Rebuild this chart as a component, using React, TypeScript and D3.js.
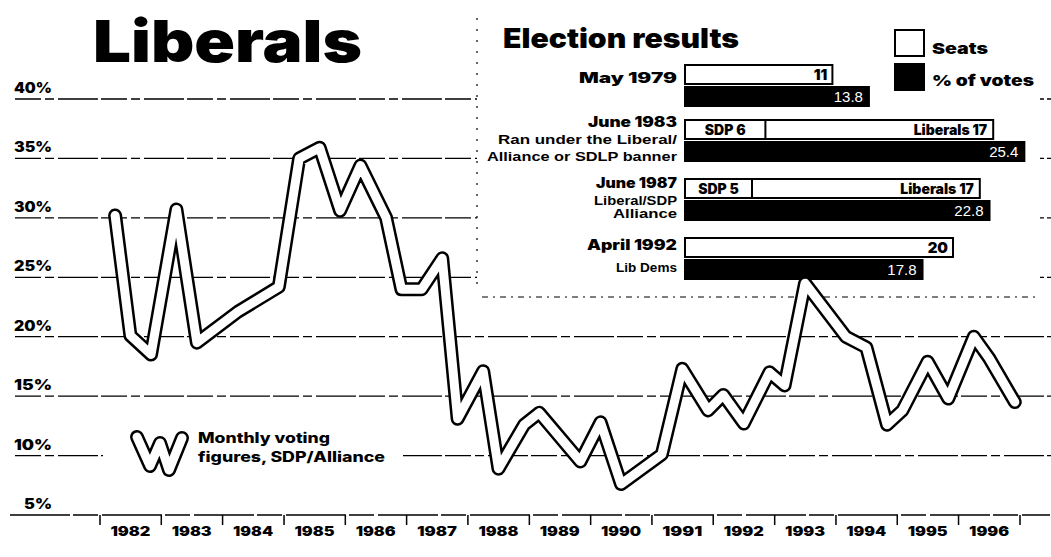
import React from "react";
import * as d3 from "d3";

const W = 1051;
const H = 557;

// Monthly voting figures, SDP/Alliance / Liberals (% share)
const months = [
  "1982-04", "1982-07", "1982-11", "1983-04", "1983-08", "1984-04", "1984-12",
  "1985-04", "1985-08", "1985-12", "1986-04", "1986-09", "1986-12", "1987-04",
  "1987-08", "1987-11", "1988-04", "1988-07", "1988-12", "1989-03", "1989-11",
  "1990-03", "1990-07", "1991-03", "1991-07", "1991-12", "1992-03", "1992-07",
  "1992-12", "1993-03", "1993-07", "1994-03", "1994-07", "1994-11", "1995-02",
  "1995-07", "1995-11", "1996-04", "1996-07", "1996-12",
];
const share = [
  30.2, 20.1, 18.5, 30.7, 19.5, 22.1, 24.2,
  35.0, 35.9, 30.6, 34.4, 30.0, 24.0, 24.0,
  26.6, 13.1, 17.1, 8.9, 12.6, 13.6, 9.5,
  12.8, 7.6, 10.1, 17.3, 13.8, 15.1, 12.7,
  17.0, 15.9, 24.5, 20.0, 19.1, 12.6, 13.8,
  17.9, 14.8, 20.0, 18.2, 14.5,
];

const yearLabels = [
  "1982", "1983", "1984", "1985", "1986", "1987", "1988", "1989",
  "1990", "1991", "1992", "1993", "1994", "1995", "1996",
];
const yTicks = [40, 35, 30, 25, 20, 15, 10, 5];

// Election results
const elections = ["May 1979", "June 1983", "June 1987", "April 1992"];
const electionNotes = [
  [] as string[],
  ["Ran under the Liberal/", "Alliance or SDLP banner"],
  ["Liberal/SDP", "Alliance"],
  ["Lib Dems"],
];
const sdpSeats = [0, 6, 5, 0];
const libSeats = [11, 17, 17, 20];
const voteShare = [13.8, 25.4, 22.8, 17.8];

const HEAVY = "'Inter', 'Roboto', 'Liberation Sans', Arial, sans-serif";
const PLAIN = "'Liberation Sans', Arial, 'Inter', sans-serif";

export default function App() {
  const parse = d3.timeParse("%Y-%m");
  const x = d3
    .scaleTime()
    .domain([new Date(1982, 0, 1), new Date(1997, 0, 1)])
    .range([100, 1020]);
  const y = d3.scaleLinear().domain([5, 40]).range([515, 99]);

  const pts = months.map((m, i) => ({ d: parse(m) as Date, v: share[i] }));
  const lineGen = d3
    .line<{ d: Date; v: number }>()
    .x((p) => x(p.d))
    .y((p) => y(p.v));
  const pathD = lineGen(pts) || "";

  const yearTicks = d3.timeYear.range(new Date(1982, 0, 1), new Date(1997, 0, 2));
  const bx = d3.scaleLinear().domain([0, 25]).range([685, 1020]);

  const rowTop = [65, 120, 179, 238];
  const labelBase = [83, 127, 188, 250];
  const noteBase = [[], [144, 161], [205, 218], [272]] as number[][];
  const labelWidth = [98, 89, 81, 90];
  const noteWidth = [[], [179, 190], [83, 64], [61]] as number[][];

  // legend sample of the line style
  const legendPts: [number, number][] = [
    [137, 437],
    [150, 466],
    [160, 443],
    [169, 470],
    [182, 438],
  ];
  const legendPath = d3.line()(legendPts) || "";

  return (
    <svg
      width={W}
      height={H}
      viewBox={`0 0 ${W} ${H}`}
      style={{ position: "absolute", left: 0, top: 0, background: "#fff", display: "block" }}
    >
      <rect x={0} y={0} width={W} height={H} fill="#fff" />

      {/* title */}
      <text
        x={93}
        y={62}
        fontFamily={HEAVY}
        fontWeight={900}
        fontSize={58}
        textLength={269}
        lengthAdjust="spacingAndGlyphs"
        fill="#000"
      >
        Liberals
      </text>

      {/* gridlines */}
      {yTicks.map((v) =>
        v === 5 ? (
          <line
            key={v}
            x1={10}
            x2={1050}
            y1={y(v)}
            y2={y(v)}
            stroke="#000"
            strokeWidth={1.4}
            strokeDasharray="60 3 25 4"
          />
        ) : (
          <line
            key={v}
            x1={15}
            x2={1051}
            y1={y(v)}
            y2={y(v)}
            stroke="#000"
            strokeWidth={1.3}
            strokeDasharray="26 4 9 4 40 3"
          />
        )
      )}

      {/* y labels */}
      {yTicks.map((v) => (
        <text
          key={"l" + v}
          x={52}
          y={y(v) - 6}
          textAnchor="end"
          fontFamily={HEAVY}
          fontWeight={900}
          fontSize={14}
          textLength={v === 5 ? 28 : 38}
          lengthAdjust="spacingAndGlyphs"
          fill="#000"
        >
          {v}%
        </text>
      ))}

      {/* x ticks */}
      {yearTicks.map((t, i) => (
        <line
          key={"t" + i}
          x1={x(t)}
          x2={x(t)}
          y1={y(5)}
          y2={y(5) + 10}
          stroke="#000"
          strokeWidth={1.5}
        />
      ))}
      {yearLabels.map((lab) => {
        const mid = x(new Date(+lab, 6, 1));
        return (
          <text
            key={"y" + lab}
            x={mid}
            y={536}
            textAnchor="middle"
            fontFamily={HEAVY}
            fontWeight={900}
            fontSize={13}
            textLength={40}
            lengthAdjust="spacingAndGlyphs"
            fill="#000"
          >
            {lab}
          </text>
        );
      })}

      {/* legend */}
      <rect x={103} y={424} width={300} height={56} fill="#fff" />
      <path d={legendPath} fill="none" stroke="#000" strokeWidth={14} strokeLinejoin="round" strokeLinecap="round" />
      <path d={legendPath} fill="none" stroke="#fff" strokeWidth={9} strokeLinejoin="round" strokeLinecap="round" />
      <text
        x={198}
        y={443}
        fontFamily={HEAVY}
        fontWeight={800}
        fontSize={14}
        textLength={132}
        lengthAdjust="spacingAndGlyphs"
      >
        Monthly voting
      </text>
      <text
        x={198}
        y={462}
        fontFamily={HEAVY}
        fontWeight={800}
        fontSize={14}
        textLength={187}
        lengthAdjust="spacingAndGlyphs"
      >
        figures, SDP/Alliance
      </text>

      {/* election results panel */}
      <rect x={477} y={0} width={563} height={297} fill="#fff" />
      <line x1={477} x2={477} y1={18} y2={292} stroke="#000" strokeWidth={1.2} strokeDasharray="2 9" />
      <line x1={482} x2={1040} y1={297} y2={297} stroke="#000" strokeWidth={1.2} strokeDasharray="6 5 2 5" />

      <text
        x={503}
        y={48}
        fontFamily={HEAVY}
        fontWeight={900}
        fontSize={27}
        textLength={236}
        lengthAdjust="spacingAndGlyphs"
      >
        Election results
      </text>

      {/* legend boxes */}
      <rect x={895} y={30} width={29} height={26} fill="#fff" stroke="#000" strokeWidth={2} />
      <rect x={894} y={63} width={31} height={28} fill="#000" />
      <text x={932} y={54} fontFamily={HEAVY} fontWeight={900} fontSize={15} textLength={56} lengthAdjust="spacingAndGlyphs">
        Seats
      </text>
      <text x={932} y={86} fontFamily={HEAVY} fontWeight={900} fontSize={15} textLength={102} lengthAdjust="spacingAndGlyphs">
        % of votes
      </text>

      {elections.map((el, i) => {
        const top = rowTop[i];
        const total = sdpSeats[i] + libSeats[i];
        const x0 = bx(0);
        const xs = bx(sdpSeats[i]);
        const xe = bx(total);
        const xv = bx(voteShare[i]);
        const bTop = top + 21;
        return (
          <g key={el}>
            <text
              x={677}
              y={labelBase[i]}
              textAnchor="end"
              fontFamily={HEAVY}
              fontWeight={900}
              fontSize={14}
              textLength={labelWidth[i]}
              lengthAdjust="spacingAndGlyphs"
            >
              {el}
            </text>
            {electionNotes[i].map((n, j) => (
              <text
                key={n}
                x={677}
                y={noteBase[i][j]}
                textAnchor="end"
                fontFamily={PLAIN}
                fontWeight={700}
                fontSize={13}
                textLength={noteWidth[i][j]}
                lengthAdjust="spacingAndGlyphs"
              >
                {n}
              </text>
            ))}
            {/* seats bar */}
            <rect x={x0} y={top} width={xe - x0} height={19} fill="#fff" stroke="#000" strokeWidth={2} />
            {sdpSeats[i] > 0 && (
              <>
                <line x1={xs} x2={xs} y1={top} y2={top + 19} stroke="#000" strokeWidth={2} />
                <text
                  x={(x0 + xs) / 2}
                  y={top + 15}
                  textAnchor="middle"
                  fontFamily={HEAVY}
                  fontWeight={900}
                  fontSize={14}
                >
                  {`SDP ${sdpSeats[i]}`}
                </text>
                <text x={xe - 6} y={top + 15} textAnchor="end" fontFamily={HEAVY} fontWeight={900} fontSize={14}>
                  {`Liberals ${libSeats[i]}`}
                </text>
              </>
            )}
            {sdpSeats[i] === 0 && (
              <text x={xe - 5} y={top + 15} textAnchor="end" fontFamily={HEAVY} fontWeight={900} fontSize={15}>
                {libSeats[i]}
              </text>
            )}
            {/* votes bar */}
            <rect x={x0 - 1} y={bTop} width={xv - x0 + 1} height={21} fill="#000" />
            <text
              x={xv - 7}
              y={bTop + 16}
              textAnchor="end"
              fontFamily={PLAIN}
              fontWeight={400}
              fontSize={15}
              fill="#fff"
            >
              {voteShare[i].toFixed(1)}
            </text>
          </g>
        );
      })}

      {/* data line: thick white line with black casing */}
      <path d={pathD} fill="none" stroke="#000" strokeWidth={14} strokeLinejoin="round" strokeLinecap="round" />
      <path d={pathD} fill="none" stroke="#fff" strokeWidth={9} strokeLinejoin="round" strokeLinecap="round" />
    </svg>
  );
}
